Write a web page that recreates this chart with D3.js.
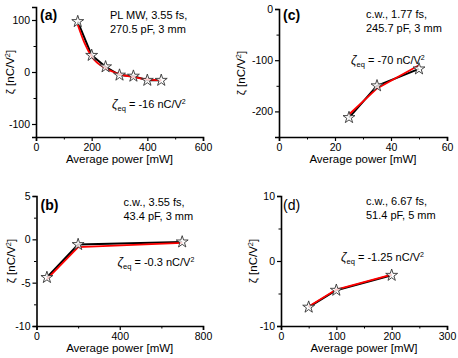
<!DOCTYPE html>
<html>
<head>
  <meta charset="utf-8">
  <script src="https://cdn.jsdelivr.net/npm/d3@7"></script>
  <style>
    body { margin: 0; background: #fff; }
    text { font-family: "Liberation Sans", Arial, sans-serif; fill: #000; }
  </style>
</head>
<body>
  <svg width="458" height="358" id="mainsvg"></svg>
  <script>
    // (a) PL MW
    const powerA = [150, 200, 250, 300, 350, 400, 450];
    const zetaA = [97, 32, 10, -6, -8, -16, -16];
    const fitPowerA = [150, 175, 200, 250, 300, 350, 400, 450];
    const fitA = [91, 55, 30, 7, -4, -10, -14, -16];
    // (b) c.w. 3.55 fs
    const powerB = [50, 200, 700];
    const zetaB = [-4.4, -0.6, -0.3];
    const fitB = [-4.6, -0.9, -0.4];
    // (c) c.w. 1.77 fs
    const powerC = [25, 35, 50];
    const zetaC = [-212, -150, -117];
    const fitC = [-206, -155, -110];
    // (d) c.w. 6.67 fs
    const powerD = [50, 100, 200];
    const zetaD = [-7.1, -4.5, -2.2];
    const fitD = [-7.0, -4.4, -2.1];

    const panels = [
      { id: 'a', bold: true, xDom: [0, 600], yDom: [-125, 125], xTicks: [0, 200, 400, 600], xMinor: [100, 300, 500],
        yTicks: [-100, 0, 100], yMinor: [-50, 50], info: ['PL MW, 3.55 fs,', '270.5 pF, 3 mm'], eq: '-16',
        px: powerA, py: zetaA, fx: fitPowerA, fy: fitA, curve: d3.curveMonotoneX,
        box: [36, 7, 167, 130], lab: [4, 13], infoPos: [74, 12], eqPos: [76, 101], ylab: 22 },
      { id: 'b', bold: true, xDom: [0, 800], yDom: [-10, 5], xTicks: [0, 400, 800], xMinor: [200, 600],
        yTicks: [-10, -5, 0, 5], yMinor: [-7.5, -2.5, 2.5], info: ['c.w., 3.55 fs,', '43.4 pF, 3 mm'], eq: '-0.3',
        px: powerB, py: zetaB, fx: powerB, fy: fitB, curve: d3.curveLinear,
        box: [36.5, 196, 166.5, 130], lab: [4, 14], infoPos: [87, 10], eqPos: [81, 70], ylab: 22 },
      { id: 'c', bold: true, xDom: [0, 60], yDom: [-250, 0], xTicks: [0, 20, 40, 60], xMinor: [10, 30, 50],
        yTicks: [-200, -100, 0], yMinor: [-250, -150, -50], info: ['c.w., 1.77 fs,', '245.7 pF, 3 mm'], eq: '-70',
        px: powerC, py: zetaC, fx: powerC, fy: fitC, curve: d3.curveLinear,
        box: [279, 9, 168, 128], lab: [4, 11], infoPos: [87, 9], eqPos: [72, 55], ylab: 34 },
      { id: 'd', bold: false, xDom: [0, 300], yDom: [-10, 10], xTicks: [0, 100, 200, 300], xMinor: [50, 150, 250],
        yTicks: [-10, 0, 10], yMinor: [-5, 5], info: ['c.w., 6.67 fs,', '51.4 pF, 5 mm'], eq: '-1.25',
        px: powerD, py: zetaD, fx: powerD, fy: fitD, curve: d3.curveLinear,
        box: [281, 196, 166, 130], lab: [2, 14], infoPos: [85, 9], eqPos: [60, 65], ylab: 24 }
    ];

    const svg = d3.select('#mainsvg');
    const fmt = d => d3.format('d')(d).replace('−', '-');

    panels.forEach(p => {
      const [left, top, w, h] = p.box;
      const g = svg.append('g').attr('transform', `translate(${left},${top})`);
      const x = d3.scaleLinear().domain(p.xDom).range([0, w]);
      const y = d3.scaleLinear().domain(p.yDom).range([h, 0]);

      // axes
      const xAxis = g.append('g').attr('transform', `translate(0,${h})`)
        .call(d3.axisBottom(x).tickValues(p.xTicks).tickSize(4).tickPadding(3).tickFormat(fmt));
      const yAxis = g.append('g')
        .call(d3.axisLeft(y).tickValues(p.yTicks).tickSize(4).tickPadding(2).tickFormat(fmt));
      [xAxis, yAxis].forEach(a => {
        a.select('.domain').attr('stroke-width', 1.6).attr('stroke', '#000');
        a.selectAll('.tick line').attr('stroke-width', 1.2);
        a.selectAll('text').style('font-size', '10.5px').attr('fill', '#000');
      });
      g.append('g').attr('transform', `translate(0,${h})`)
        .call(d3.axisBottom(x).tickValues(p.xMinor).tickSize(2.5).tickFormat(''))
        .call(s => s.select('.domain').remove());
      g.append('g')
        .call(d3.axisLeft(y).tickValues(p.yMinor).tickSize(2.5).tickFormat(''))
        .call(s => s.select('.domain').remove());

      // axis titles
      g.append('text')
        .attr('x', w / 2).attr('y', h + 26)
        .attr('text-anchor', 'middle')
        .style('font-size', '11.5px')
        .text('Average power [mW]');
      const yl = g.append('text')
        .attr('transform', `translate(${-p.ylab},${h / 2}) rotate(-90)`)
        .attr('text-anchor', 'middle')
        .style('font-size', '11.5px');
      yl.append('tspan').text('ζ  [nC/V');
      yl.append('tspan').attr('dy', -4).style('font-size', '7.5px').text('2');
      yl.append('tspan').attr('dy', 4).text(']');

      // data lines
      const line = d3.line().x(d => x(d[0])).y(d => y(d[1]));
      g.append('path')
        .datum(p.px.map((v, i) => [v, p.py[i]]))
        .attr('d', line)
        .attr('fill', 'none').attr('stroke', '#000').attr('stroke-width', 2);
      g.append('path')
        .datum(p.fx.map((v, i) => [v, p.fy[i]]))
        .attr('d', line.curve(p.curve))
        .attr('fill', 'none').attr('stroke', '#ff0000').attr('stroke-width', 1.8);

      g.selectAll('.star')
        .data(p.px.map((v, i) => [v, p.py[i]]))
        .join('path')
        .attr('class', 'star')
        .attr('transform', d => `translate(${x(d[0])},${y(d[1])})`)
        .attr('d', d3.symbol(d3.symbolStar, 44))
        .attr('fill', '#fff').attr('fill-opacity', 0.8)
        .attr('stroke', '#333').attr('stroke-width', 0.9);

      // annotations
      g.append('text')
        .attr('x', p.lab[0]).attr('y', p.lab[1])
        .style('font-size', '14px')
        .style('font-weight', p.bold ? 'bold' : 'normal')
        .text(`(${p.id})`);
      p.info.forEach((t, i) => {
        g.append('text')
          .attr('x', p.infoPos[0]).attr('y', p.infoPos[1] + i * 14)
          .style('font-size', '11px')
          .text(t);
      });
      const eq = g.append('text')
        .attr('x', p.eqPos[0]).attr('y', p.eqPos[1])
        .style('font-size', '11px');
      eq.append('tspan').style('font-style', 'italic').style('font-size', '12px').text('ζ');
      eq.append('tspan').attr('dy', 3).style('font-size', '7.5px').text('eq');
      eq.append('tspan').attr('dy', -3).text(` = ${p.eq} nC/V`);
      eq.append('tspan').attr('dy', -4).style('font-size', '7px').text('2');
    });
  </script>
</body>
</html>
